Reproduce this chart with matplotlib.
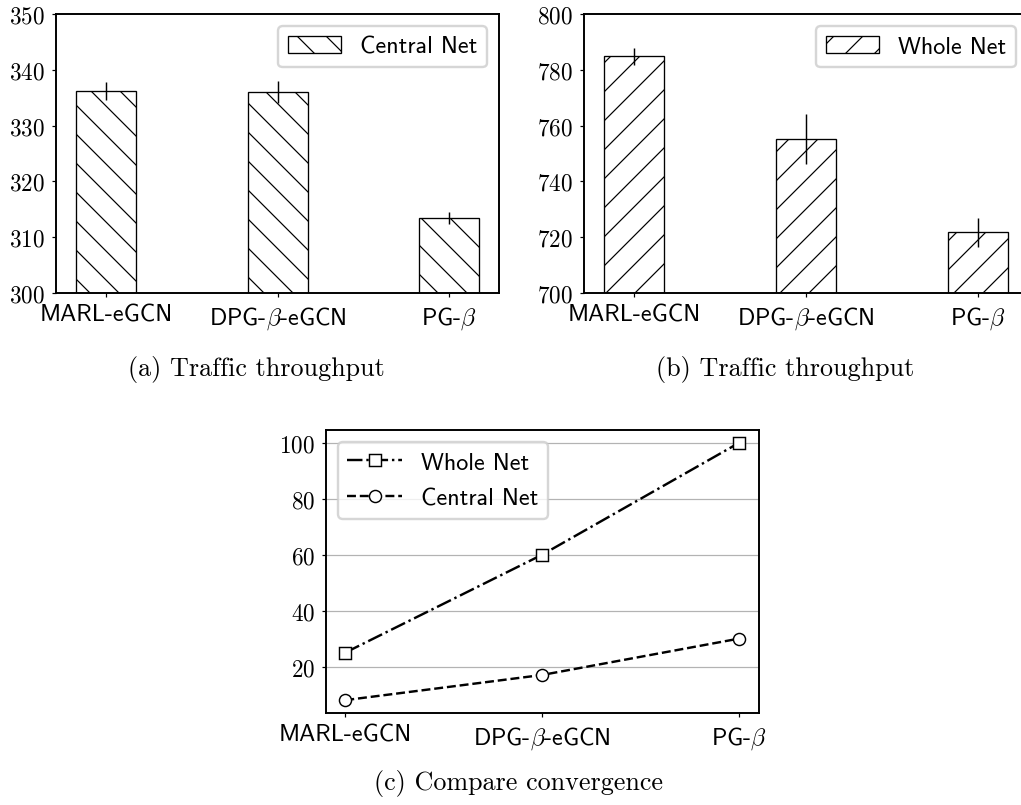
import matplotlib
matplotlib.use("Agg")
import matplotlib.pyplot as plt
import numpy as np

plt.rcParams['mathtext.fontset'] = 'cm'
plt.rcParams['axes.formatter.use_mathtext'] = True
plt.rcParams['hatch.linewidth'] = 0.5

methods = ['MARL-eGCN', r'DPG-$\beta$-eGCN', r'PG-$\beta$']

# throughput of the central part of the network
central_tp = [336.2, 336.0, 313.4]
central_err = [1.7, 2.0, 1.1]

# throughput of the whole network
whole_tp = [784.8, 755.2, 721.8]
whole_err = [3.0, 9.0, 5.2]

# convergence comparison
whole_conv = [25, 60, 100]
central_conv = [8, 17, 30]

W, H, DPI = 1021, 806, 174
fig = plt.figure(figsize=(W / DPI, H / DPI), dpi=DPI)

def px_axes(left, right, top, bottom):
    return fig.add_axes([left / W, 1 - bottom / H, (right - left) / W, (bottom - top) / H])

def style_ticks(ax):
    ax.tick_params(axis='both', length=1.5, width=0.5, pad=3)
    for lab in ax.get_yticklabels():
        lab.set_fontfamily('cmr10')
        lab.set_fontsize(9.6)
    for lab in ax.get_xticklabels():
        lab.set_fontfamily('cmss10')
        lab.set_fontsize(10)
    for sp in ax.spines.values():
        sp.set_linewidth(0.8)

x = np.arange(len(methods))
leg_font = {'family': 'cmss10', 'size': 10}

def bar_panel(ax, vals, errs, hatch, label, ylim):
    ax.bar(x, vals, width=0.35, yerr=errs, color='white', edgecolor='black',
           linewidth=0.55, hatch=hatch, label=label,
           error_kw=dict(ecolor='black', elinewidth=0.6, capsize=0))
    ax.set_ylim(*ylim)
    ax.set_xticks(x)
    ax.set_xticklabels(methods)
    ax.legend(loc='upper right', prop=leg_font, handlelength=2.2)
    style_ticks(ax)

ax1 = px_axes(55.7, 499.4, 15, 294)
bar_panel(ax1, central_tp, central_err, '\\\\', 'Central Net', (300, 350))

ax2 = px_axes(584, 1028, 15, 294)
bar_panel(ax2, whole_tp, whole_err, '//', 'Whole Net', (700, 800))

ax3 = px_axes(325.6, 758.7, 431, 714)
ax3.plot(x, whole_conv, linestyle='-.', marker='s', color='black', lw=1.0,
         ms=5, mfc='white', mew=0.6, label='Whole Net')
ax3.plot(x, central_conv, linestyle='--', marker='o', color='black', lw=1.0,
         ms=5, mfc='white', mew=0.6, label='Central Net')
ax3.set_xticks(x)
ax3.set_xticklabels(methods)
ax3.set_yticks([20, 40, 60, 80, 100])
ax3.grid(axis='y', color='0.7', lw=0.5)
ax3.set_axisbelow(True)
ax3.legend(loc='upper left', prop=leg_font, handlelength=2.25, labelspacing=0.55)
style_ticks(ax3)

cap = dict(family='cmr10', fontsize=10.8, ha='center', va='baseline')
fig.text(256 / W, 1 - 376 / H, '(a) Traffic throughput', **cap)
fig.text(785 / W, 1 - 376 / H, '(b) Traffic throughput', **cap)
fig.text(519 / W, 1 - 790 / H, '(c) Compare convergence', **cap)

fig.savefig('out.png', dpi=DPI)
